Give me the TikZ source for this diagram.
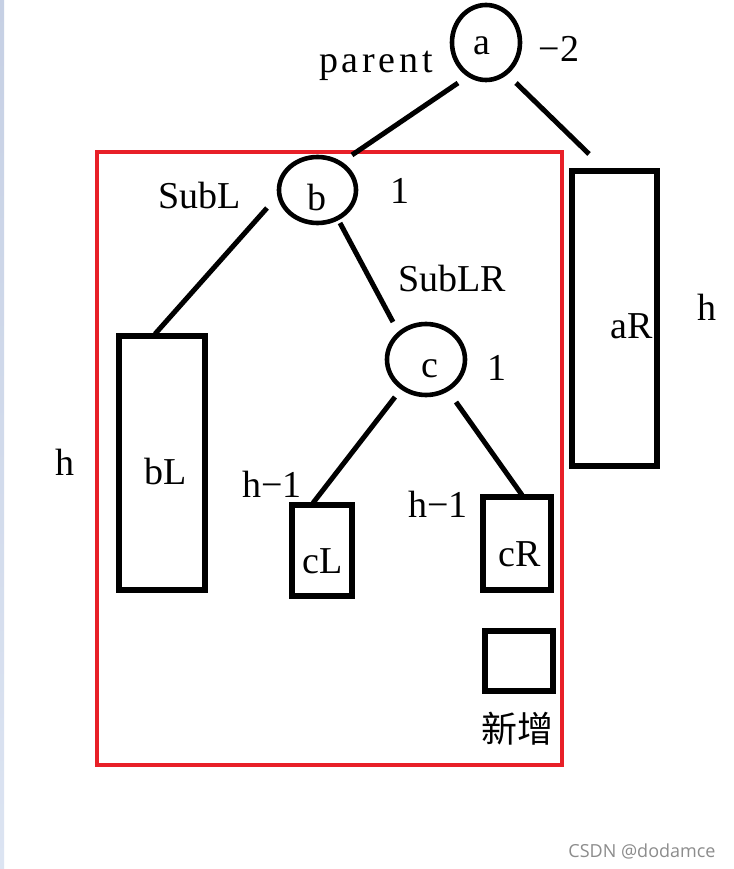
\documentclass[tikz,border=0pt]{standalone}
\usepackage{fontspec}
\setmainfont{Liberation Serif}
\newfontfamily\cjk{Noto Sans CJK SC}
\newfontfamily\wmfont{Open Sans}
\newfontfamily\widefont[LetterSpace=10]{Liberation Serif}
\usetikzlibrary{shapes.geometric}
\definecolor{boxred}{RGB}{232,32,40}
\definecolor{wmgray}{RGB}{140,140,140}
\definecolor{stripA}{RGB}{198,208,228}
\definecolor{stripB}{RGB}{220,228,242}
\tikzset{
 lbl/.style={anchor=base, inner sep=0pt, font=\fontsize{38}{44}\selectfont},
 treenode/.style={ellipse, draw, line width=4.6pt, inner sep=0pt},
 subtree/.style={rectangle, draw, line width=5.2pt, inner sep=0pt},
 edge/.style={line width=5pt},
}
\begin{document}
\begin{tikzpicture}[x=1pt,y=-1pt]
\useasboundingbox (0,0) rectangle (733,869);
\fill[white] (0,0) rectangle (733,869);
\shade[top color=stripA,bottom color=stripB] (0,0) rectangle (4,869);

% red frame around the left subtree
\node[draw=boxred, line width=4.2pt, inner sep=0pt, minimum width=465pt, minimum height=613pt] (frame) at (329.5,458.5) {};

% tree nodes
\node[treenode, minimum width=68pt, minimum height=75pt] (a) at (486,42.5) {};
\node[treenode, minimum width=77pt, minimum height=66pt] (b) at (317.5,190) {};
\node[treenode, minimum width=78pt, minimum height=71pt] (c) at (426,359.5) {};

% subtrees
\node[subtree, minimum width=86pt, minimum height=254pt] (bL) at (162,463) {};
\node[subtree, minimum width=60pt, minimum height=91pt] (cL) at (322,550.5) {};
\node[subtree, minimum width=68pt, minimum height=93pt] (cR) at (517,543.5) {};
\node[subtree, minimum width=68pt, minimum height=60pt] (new) at (519,661) {};
\node[subtree, minimum width=85pt, minimum height=295pt] (aR) at (614.5,318.5) {};

% connector end points
\coordinate (a-l) at (458,83);
\coordinate (a-r) at (516,83);
\coordinate (frame-in) at (352,155);
\coordinate (aR-in) at (589,154);
\coordinate (b-l) at (267,208);
\coordinate (b-r) at (340,223);
\coordinate (bL-in) at (155,334);
\coordinate (c-in) at (393,322);
\coordinate (c-l) at (395,397);
\coordinate (c-r) at (456,402);
\coordinate (cL-in) at (313,503);
\coordinate (cR-in) at (522,495);

\draw[edge] (a-l) -- (frame-in);
\draw[edge] (a-r) -- (aR-in);
\draw[edge] (b-l) -- (bL-in);
\draw[edge] (b-r) -- (c-in);
\draw[edge] (c-l) -- (cL-in);
\draw[edge] (c-r) -- (cR-in);

% labels
\node[lbl] (ta) at (482,55) {a};
\node[lbl, font=\widefont\fontsize{38}{44}\selectfont] (tparent) at (376,73) {parent};
\node[lbl] (tm2) at (559,62) {−2};
\node[lbl] (tb) at (317,210) {b};
\node[lbl] (tsubl) at (200,208) {SubL};
\node[lbl] (tb1) at (400,203) {1};
\node[lbl] (tsublr) at (452,291) {SubLR};
\node[lbl] (tc) at (430,377) {c};
\node[lbl] (tc1) at (497,380) {1};
\node[lbl] (thl) at (272,497) {h−1};
\node[lbl] (thr) at (438,517) {h−1};
\node[lbl] (tcl) at (323,573) {cL};
\node[lbl] (tcr) at (520,566) {cR};
\node[lbl] (tar) at (632,338) {aR};
\node[lbl] (thar) at (707,320) {h};
\node[lbl] (tbl) at (166,484) {bL};
\node[lbl] (thbl) at (65,475) {h};
\node[inner sep=0pt, font=\cjk\fontsize{36}{40}\selectfont] (tnew) at (517,729) {新增};
\node[inner sep=0pt, text=wmgray, font=\wmfont\fontsize{18}{22}\selectfont] (wm) at (642,851) {CSDN @dodamce};
\end{tikzpicture}
\end{document}
